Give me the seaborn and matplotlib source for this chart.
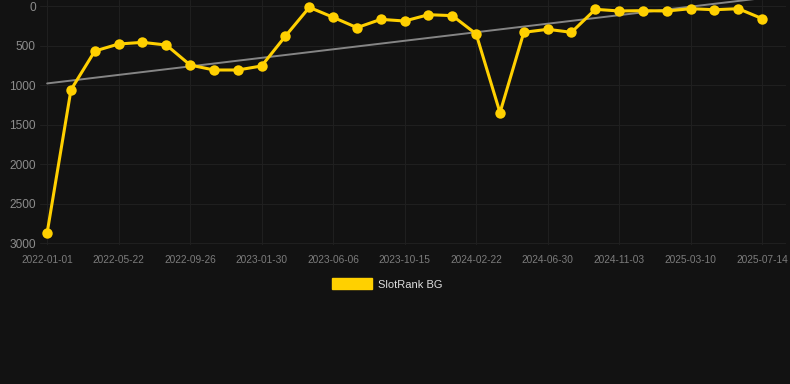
import matplotlib
matplotlib.use("Agg")
import matplotlib.pyplot as plt
from matplotlib.patches import Patch
import seaborn as sns
import pandas as pd

dates = ["2022-01-01", "2022-02-17", "2022-04-05", "2022-05-22", "2022-07-04", "2022-08-15",
         "2022-09-26", "2022-11-07", "2022-12-19", "2023-01-30", "2023-03-13", "2023-04-24",
         "2023-06-06", "2023-07-20", "2023-09-01", "2023-10-15", "2023-11-28", "2024-01-10",
         "2024-02-22", "2024-04-05", "2024-05-18", "2024-06-30", "2024-08-11", "2024-09-22",
         "2024-11-03", "2024-12-15", "2025-01-26", "2025-03-10", "2025-04-21", "2025-06-02",
         "2025-07-14"]
rank = [2870, 1060, 570, 481, 460, 494, 747, 810, 810, 759, 380, 17, 143, 274, 169, 190,
        110, 122, 354, 1350, 333, 295, 333, 42, 63, 59, 63, 34, 47, 34, 160]
trend_ends = [980, -100]
series_name = "SlotRank BG"

BG = "#121212"
GOLD = "#FFD000"

df = pd.DataFrame({"pos": range(len(dates)), "date": dates, "rank": rank})
trend_df = pd.DataFrame({"pos": [0, len(dates) - 1], "rank": trend_ends})

sns.set_theme(style="dark")
plt.rcParams["font.family"] = ["Liberation Sans", "DejaVu Sans"]

fig = plt.figure(figsize=(7.9, 3.84), dpi=100, facecolor=BG)
ax = fig.add_axes([40 / 790, 1 - 245 / 384, 746 / 790, 245 / 384])
ax.set_facecolor(BG)

sns.lineplot(data=trend_df, x="pos", y="rank", ax=ax, color="#858585", linewidth=1.4, zorder=2)
sns.lineplot(data=df, x="pos", y="rank", ax=ax, color=GOLD, linewidth=2.2, marker="o",
             markersize=7.5, markeredgewidth=0, zorder=3)

ax.set_xlim(-0.3, 31.0)
ax.set_ylim(3025, -76)
ax.set_yticks([0, 500, 1000, 1500, 2000, 2500, 3000])
tick_pos = list(range(0, len(dates), 3))
ax.set_xticks(tick_pos)
ax.set_xticklabels([dates[i] for i in tick_pos])
ax.tick_params(axis="x", colors="#7c7c7c", labelsize=7.3, length=0, pad=7)
ax.tick_params(axis="y", colors="#8c8c8c", labelsize=8.6, length=0, pad=3)
ax.grid(True, color="#1f1f1f", linewidth=0.8)
ax.set_xlabel("")
ax.set_ylabel("")
for s in ax.spines.values():
    s.set_visible(False)

handle = Patch(facecolor=GOLD, edgecolor=GOLD, label=series_name)
fig.legend(handles=[handle], loc="center", bbox_to_anchor=(387 / 790, 1 - 284 / 384),
           frameon=False, fontsize=8, labelcolor="#dddddd", handlelength=3.6,
           handleheight=1.1, handletextpad=0.55)

fig.savefig("out.png", dpi=100, facecolor=BG)
